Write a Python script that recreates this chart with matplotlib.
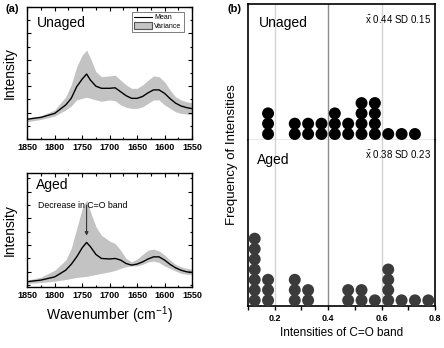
import numpy as np
import matplotlib
matplotlib.use('Agg')
import matplotlib.pyplot as plt
from matplotlib.ticker import MultipleLocator
from matplotlib.patches import Patch
from matplotlib.lines import Line2D

plt.rcParams['font.family'] = ['Liberation Sans', 'DejaVu Sans']
plt.rcParams['mathtext.fontset'] = 'custom'
plt.rcParams['mathtext.rm'] = 'Liberation Sans'

# spectra (arbitrary intensity units)
wavenumber = [1850, 1825, 1800, 1780, 1770, 1760, 1750, 1742, 1735, 1725, 1715, 1700, 1690,
              1680, 1670, 1660, 1650, 1640, 1630, 1620, 1610, 1600, 1590, 1580, 1570, 1560, 1550]
unaged_mean = [0.75, 0.82, 0.97, 1.29, 1.54, 1.98, 2.27, 2.46, 2.23, 2.0, 1.92, 1.92, 1.94,
               1.79, 1.64, 1.54, 1.54, 1.61, 1.75, 1.86, 1.86, 1.73, 1.53, 1.36, 1.25, 1.19, 1.15]
unaged_upper = [0.79, 0.88, 1.10, 1.6, 2.05, 2.74, 3.18, 3.37, 3.06, 2.55, 2.36, 2.39, 2.42,
                2.23, 2.05, 1.92, 1.92, 2.05, 2.23, 2.39, 2.36, 2.17, 1.86, 1.6, 1.48, 1.41, 1.38]
unaged_lower = [0.66, 0.74, 0.87, 1.1, 1.25, 1.48, 1.54, 1.58, 1.54, 1.48, 1.43, 1.48, 1.45,
                1.29, 1.2, 1.16, 1.16, 1.22, 1.35, 1.48, 1.48, 1.29, 1.16, 1.03, 0.97, 0.95, 0.93]
aged_mean = [-0.37, -0.31, -0.19, 0.06, 0.28, 0.56, 0.9, 1.1, 0.94, 0.65, 0.5, 0.48, 0.5,
             0.44, 0.31, 0.25, 0.29, 0.37, 0.48, 0.56, 0.56, 0.44, 0.28, 0.15, 0.06, 0.0, -0.02]
aged_upper = [-0.31, -0.2, 0.06, 0.44, 0.88, 1.62, 2.37, 2.69, 2.25, 1.69, 1.37, 1.15, 1.06,
              0.81, 0.5, 0.37, 0.48, 0.65, 0.81, 0.85, 0.78, 0.63, 0.44, 0.28, 0.19, 0.13, 0.1]
aged_lower = [-0.44, -0.4, -0.35, -0.29, -0.25, -0.21, -0.19, -0.17, -0.14, -0.1, -0.06, 0.0, 0.05,
              0.13, 0.19, 0.22, 0.22, 0.28, 0.37, 0.4, 0.35, 0.22, 0.13, 0.03, -0.06, -0.09, -0.11]

# dot plot of C=O band intensities
unaged_bins = [0.175, 0.275, 0.325, 0.375, 0.425, 0.475, 0.525, 0.575, 0.625, 0.675, 0.725]
unaged_counts = [3, 2, 2, 2, 3, 2, 4, 4, 1, 1, 1]
aged_bins = [0.125, 0.175, 0.275, 0.325, 0.475, 0.525, 0.575, 0.625, 0.675, 0.725, 0.775]
aged_counts = [7, 3, 3, 2, 2, 2, 1, 4, 1, 1, 1]

BAND = '#c3c3c3'

fig = plt.figure(figsize=(4.44, 3.48), dpi=100)
ax1 = fig.add_axes([0.0615, 0.6006, 0.3709, 0.3793])
ax2 = fig.add_axes([0.0615, 0.176, 0.3709, 0.326])
ax3 = fig.add_axes([0.5586, 0.5977, 0.4211, 0.3908])
ax4 = fig.add_axes([0.5586, 0.1216, 0.4211, 0.4761])


def spectrum_axes(ax, ylim):
    ax.set_xlim(1850, 1550)
    ax.set_ylim(*ylim)
    ax.xaxis.set_major_locator(MultipleLocator(50))
    ax.xaxis.set_minor_locator(MultipleLocator(25))
    ax.yaxis.set_major_locator(MultipleLocator(1))
    ax.yaxis.set_minor_locator(MultipleLocator(0.5))
    ax.tick_params(which='both', direction='in', top=True, right=True, width=0.8)
    ax.tick_params(which='major', length=3)
    ax.tick_params(which='minor', length=1.8)
    ax.tick_params(axis='y', labelleft=False)
    ax.tick_params(axis='x', pad=3)
    for lab in ax.get_xticklabels():
        lab.set_fontsize(6.5)
        lab.set_fontweight('bold')
    for s in ax.spines.values():
        s.set_linewidth(1.0)
    ax.set_ylabel('Intensity', fontsize=10, labelpad=4)


ax1.fill_between(wavenumber, unaged_lower, unaged_upper, color=BAND, lw=0)
ax1.plot(wavenumber, unaged_mean, color='black', lw=1.0)
spectrum_axes(ax1, (0, 5))
ax1.text(0.06, 0.88, 'Unaged', transform=ax1.transAxes, fontsize=10, va='center')
handles = [Line2D([], [], color='black', lw=0.8),
           Patch(facecolor=BAND, edgecolor='#555555', lw=0.8)]
leg = ax1.legend(handles, ['Mean', 'Variance'], loc='upper right', fontsize=5,
                 frameon=True, fancybox=False, handlelength=2.6, handleheight=1.0,
                 borderpad=0.3, labelspacing=0.15, handletextpad=0.3,
                 bbox_to_anchor=(0.97, 0.99))
leg.get_frame().set_edgecolor('#444444')
leg.get_frame().set_linewidth(0.6)

ax2.fill_between(wavenumber, aged_lower, aged_upper, color=BAND, lw=0)
ax2.plot(wavenumber, aged_mean, color='black', lw=1.0)
spectrum_axes(ax2, (-0.56, 3.69))
ax2.text(0.05, 0.9, 'Aged', transform=ax2.transAxes, fontsize=10, va='center')
ax2.text(0.065, 0.72, 'Decrease in C=O band', transform=ax2.transAxes, fontsize=6.3,
         va='center')
ax2.annotate('', xy=(1742, 1.25), xytext=(1742, 2.6),
             arrowprops=dict(arrowstyle='-|>', color='#333333', lw=0.8,
                             mutation_scale=5))
ax2.set_xlabel('Wavenumber (cm$^{-1}$)', fontsize=10, labelpad=3)


def dot_axes(ax, bins, counts, color, ylim):
    for g, c in zip([0.2, 0.4, 0.6], ['#d4d4d4', '#8c8c8c', '#d4d4d4']):
        ax.axvline(g, color=c, lw=1.0, zorder=0)
    xs = np.repeat(bins, counts)
    ys = np.concatenate([np.arange(1, n + 1) for n in counts])
    ax.scatter(xs, ys, s=74, color=color, edgecolors='none', zorder=3)
    ax.set_xlim(0.1, 0.8)
    ax.set_ylim(*ylim)
    ax.set_yticks([])
    ax.xaxis.set_major_locator(MultipleLocator(0.2))
    ax.xaxis.set_minor_locator(MultipleLocator(0.1))
    for s in ax.spines.values():
        s.set_linewidth(1.2)


dot_axes(ax3, unaged_bins, unaged_counts, 'black', (0.42, 13.6))
ax3.tick_params(axis='x', which='both', bottom=False, labelbottom=False)
ax3.spines['bottom'].set_color('#8c8c8c')
ax3.spines['bottom'].set_linewidth(1.0)
ax3.text(0.06, 0.86, 'Unaged', transform=ax3.transAxes, fontsize=10, va='center')
ax3.text(0.98, 0.89, r'$\bar{\mathrm{x}}$ 0.44 SD 0.15', transform=ax3.transAxes,
         fontsize=7, ha='right', va='center')

dot_axes(ax4, aged_bins, aged_counts, '#3b3b3b', (0.48, 16.6))
ax4.spines['top'].set_visible(False)
ax4.tick_params(axis='x', which='both', direction='out', length=3, width=1.0, pad=3)
for lab in ax4.get_xticklabels():
    lab.set_fontsize(6.5)
    lab.set_fontweight('bold')
ax4.text(0.05, 0.88, 'Aged', transform=ax4.transAxes, fontsize=10, va='center')
ax4.text(0.98, 0.915, r'$\bar{\mathrm{x}}$ 0.38 SD 0.23', transform=ax4.transAxes,
         fontsize=7, ha='right', va='center')
ax4.set_xlabel('Intensities of C=O band', fontsize=8.5, labelpad=3)

fig.text(0.523, 0.555, 'Frequency of Intensities', rotation=90, fontsize=9.5,
         ha='center', va='center')
fig.text(0.012, 0.975, '(a)', fontsize=8, fontweight='bold', va='center')
fig.text(0.513, 0.975, '(b)', fontsize=8, fontweight='bold', va='center')

fig.savefig('out.png', dpi=100)
